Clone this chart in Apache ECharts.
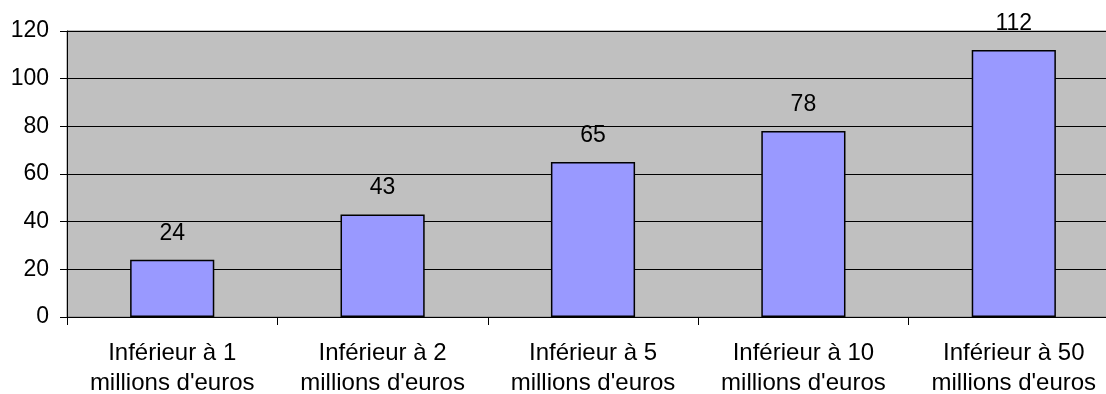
<!DOCTYPE html>
<html>
<head>
<meta charset="utf-8">
<style>
  html, body { margin: 0; padding: 0; background: #fff; }
  #chart { width: 1106px; height: 394px; }
</style>
<script src="https://cdn.jsdelivr.net/npm/echarts@6/dist/echarts.min.js"></script>
</head>
<body>
<div id="chart"></div>
<script>
// Catégories de chiffre d'affaires et nombre d'entreprises par tranche
const categories = [
  'Inférieur à 1\nmillions d\'euros',
  'Inférieur à 2\nmillions d\'euros',
  'Inférieur à 5\nmillions d\'euros',
  'Inférieur à 10\nmillions d\'euros',
  'Inférieur à 50\nmillions d\'euros'
];
const values = [24, 43, 65, 78, 112];
const yTicks = { min: 0, max: 120, interval: 20 };

const FONT = '"Liberation Sans", Arial, sans-serif';

const chart = echarts.init(document.getElementById('chart'));
chart.setOption({
  animation: false,
  grid: {
    left: 67,
    top: 31,
    width: 1052,
    height: 286,
    outerBoundsMode: 'none',
    containLabel: false,
    show: true,
    backgroundColor: '#C0C0C0',
    borderColor: '#808080',
    borderWidth: 1
  },
  xAxis: {
    type: 'category',
    data: categories,
    axisLine: { show: true, lineStyle: { color: '#000', width: 1 } },
    axisTick: { show: true, inside: false, length: 8, alignWithLabel: false, lineStyle: { color: '#000' } },
    axisLabel: {
      color: '#000',
      fontFamily: FONT,
      fontSize: 24,
      lineHeight: 30,
      margin: 21,
      interval: 0
    },
    splitLine: { show: false }
  },
  yAxis: {
    type: 'value',
    min: yTicks.min,
    max: yTicks.max,
    interval: yTicks.interval,
    axisLine: { show: true, lineStyle: { color: '#000', width: 1 } },
    axisTick: { show: true, inside: false, length: 7, lineStyle: { color: '#000' } },
    axisLabel: {
      color: '#000',
      fontFamily: FONT,
      fontSize: 23,
      margin: 18
    },
    splitLine: { show: true, lineStyle: { color: '#000', width: 1 } }
  },
  series: [{
    type: 'bar',
    data: values,
    barWidth: '40%',
    itemStyle: {
      color: '#9999FF',
      borderColor: '#000',
      borderWidth: 1.5
    },
    label: {
      show: true,
      position: 'top',
      distance: 15,
      color: '#000',
      fontFamily: FONT,
      fontSize: 23
    }
  }]
});
</script>
</body>
</html>
